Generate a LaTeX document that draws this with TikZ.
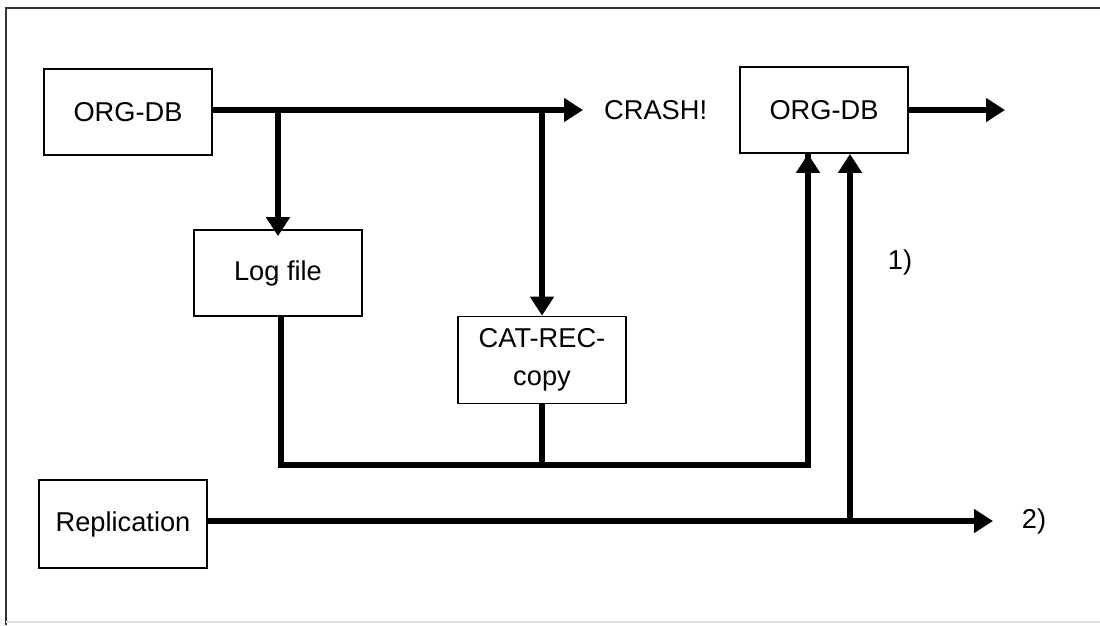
\documentclass[tikz,border=0pt]{standalone}
\usepackage{fontspec}
\setmainfont{Liberation Sans}
\usetikzlibrary{arrows.meta}

\begin{document}
\begin{tikzpicture}[x=0.2mm,y=-0.2mm,
    font=\fontsize{15.5}{21.5}\selectfont,
    box/.style={draw,line width=1pt,minimum width=33.6mm,minimum height=17.2mm,align=center},
    flow/.style={line width=3pt},
    tip/.style={-{Triangle[length=3.8mm,width=4.6mm]}}]
            \useasboundingbox (0,0) rectangle (1100,625);
            \draw[line width=1pt,black!80] (1100,8) -- (6,8) -- (6,625);
            \draw[line width=1pt,black!12] (6,622) -- (1100,622);

            \node[box] (orgA) at (128,112) {ORG-DB};
            \node[box] (logf) at (278,273) {Log file};
            \node[box,minimum height=17.4mm] (catrec) at (542,360) {CAT-REC-\\copy};
            \node[box] (orgB) at (824,110) {ORG-DB};
            \node[box,minimum height=17.6mm] (repl) at (123,524) {Replication};

            \node[anchor=west] (crash) at (598,110) {CRASH!};
            \node (one) at (900,262) {1)};
            \node (two) at (1034,521) {2)};

            \coordinate (crashin) at (583,110);
            \coordinate (outB) at (1005,110);
            \coordinate (out2) at (993,521);
            \coordinate (join) at (281,465);

            \draw[flow,tip] (orgA.east |- crashin) -- (crashin);
            \draw[flow,tip] (crashin -| logf.north) -- ([yshift=-1.4mm]logf.north);
            \draw[flow,tip] (crashin -| catrec.north) -- (catrec.north);
            \draw[flow] (logf.south -| join) -- (join) -| ([xshift=-3.2mm]orgB.south) coordinate (inA);
            \draw[flow,tip] (join -| inA) -- (inA);
            \draw[flow] (catrec.south) -- (catrec.south |- join);
            \draw[flow,tip] (repl.east |- out2) -- (out2);
            \draw[flow,tip] ([xshift=5.2mm]orgB.south |- out2) -- ([xshift=5.2mm]orgB.south);
            \draw[flow,tip] (orgB.east) -- (outB);
        \end{tikzpicture}
\end{document}
